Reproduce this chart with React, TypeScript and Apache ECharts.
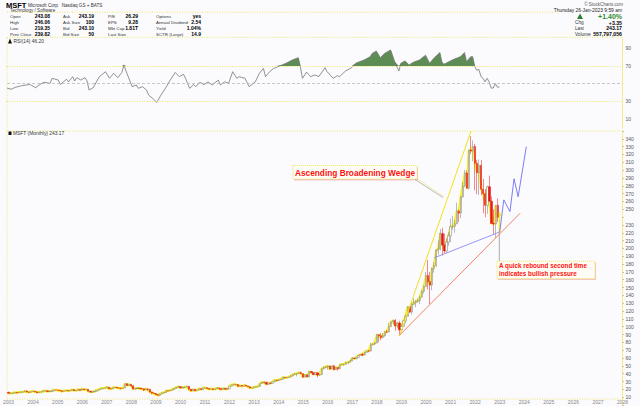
import React, { useEffect, useRef } from 'react';
import * as echarts from 'echarts';

// ---------- categories (months Jan 2003 .. Jan 2028) ----------
const months: string[] = [];
for (let y = 2003; y <= 2028; y++) {
  for (let m = 1; m <= 12; m++) {
    if (y === 2028 && m > 1) break;
    months.push(`${y}-${m < 10 ? '0' + m : m}`);
  }
}

// ---------- monthly OHLC (dividend adjusted), Jan 2003 .. Jan 2023 ----------
const opens = [
  16.3, 14.9, 14.9, 15.3, 16.1, 15.5, 16.2, 16.6, 16.7, 17.5, 16.5, 16.2,
  17.2, 17.6, 16.8, 15.8, 16.6, 16.7, 18.1, 18.1, 17.3, 17.6, 17.8, 19.2,
  19.1, 18.9, 18.1, 17.4, 18.2, 18.6, 17.9, 18.4, 19.7, 18.5, 18.5, 19.9,
  18.8, 20.5, 19.6, 19.9, 17.6, 16.5, 17.0, 17.6, 18.8, 20.0, 21.0, 21.4,
  21.8, 22.8, 20.8, 20.6, 22.2, 22.7, 21.8, 21.5, 21.3, 21.8, 27.2, 24.9,
  26.3, 24.5, 20.4, 21.3, 21.4, 21.2, 20.6, 19.3, 20.5, 20.0, 16.7, 15.2,
  14.6, 13.1, 12.4, 14.1, 15.5, 16.0, 18.2, 18.0, 18.9, 19.7, 21.2, 22.5,
  23.3, 22.0, 22.4, 22.8, 23.8, 20.1, 17.9, 20.1, 18.3, 19.1, 20.8, 19.7,
  21.8, 22.0, 21.1, 20.2, 20.7, 19.9, 20.7, 21.8, 21.1, 19.8, 21.2, 20.3,
  20.6, 24.1, 25.9, 26.3, 26.1, 23.8, 24.9, 24.0, 25.1, 24.3, 23.3, 21.7,
  21.8, 22.9, 23.2, 23.9, 27.6, 29.1, 28.8, 26.6, 27.9, 27.8, 29.6, 31.8,
  31.2, 32.5, 32.9, 35.3, 34.7, 35.2, 35.9, 37.1, 39.1, 39.9, 40.4, 41.1,
  39.9, 35.6, 38.6, 35.8, 42.8, 41.2, 38.9, 41.1, 38.3, 38.9, 46.3, 47.8,
  48.8, 49.9, 46.0, 50.0, 45.1, 48.0, 46.3, 51.3, 52.0, 52.1, 54.2, 54.5,
  56.2, 59.8, 59.2, 60.9, 63.3, 64.6, 63.8, 67.2, 69.2, 68.9, 76.9, 77.9,
  79.1, 89.8, 88.6, 86.2, 88.4, 93.4, 93.2, 100.2, 106.2, 108.1, 100.9, 104.8,
  96.0, 100.3, 107.5, 113.2, 125.4, 118.7, 128.6, 130.8, 132.3, 133.5, 137.6, 145.3,
  151.4, 165.5, 157.5, 153.3, 174.2, 178.1, 197.8, 199.3, 219.2, 204.4, 196.8, 208.1,
  216.2, 227.8, 228.2, 231.5, 247.6, 245.2, 266.0, 279.8, 296.4, 276.8, 325.6, 324.6,
  330.3, 308.8, 296.7, 306.2, 275.6, 270.0, 255.0, 278.8, 260.4, 232.0, 231.2, 255.1,
  243.08,
];
const highs = [
  16.8, 15.6, 16.0, 16.5, 16.6, 16.9, 17.1, 17.2, 18.5, 18.9, 16.9, 17.5,
  18.1, 17.8, 17.0, 17.0, 17.0, 18.2, 18.8, 18.1, 17.8, 18.1, 19.4, 19.5,
  19.3, 19.0, 18.3, 18.4, 18.8, 18.7, 18.8, 19.9, 19.8, 18.9, 20.0, 20.0,
  20.8, 20.5, 20.3, 20.3, 17.7, 17.2, 17.8, 19.0, 20.1, 21.1, 21.9, 22.1,
  23.2, 22.9, 21.2, 22.4, 23.1, 22.8, 22.1, 21.9, 22.0, 27.6, 27.8, 26.8,
  26.5, 25.0, 21.7, 22.2, 21.8, 21.5, 20.8, 20.8, 21.0, 20.1, 16.8, 15.9,
  15.1, 13.9, 14.5, 15.7, 16.3, 18.4, 18.3, 19.1, 20.1, 21.6, 22.7, 23.8,
  23.8, 22.6, 23.0, 24.6, 24.0, 20.6, 20.5, 20.3, 19.3, 21.0, 21.0, 22.0,
  22.8, 22.3, 21.2, 21.0, 20.8, 20.8, 22.5, 21.8, 21.6, 21.9, 21.2, 20.9,
  24.3, 26.1, 26.6, 26.4, 26.2, 25.1, 25.4, 25.2, 25.9, 24.4, 23.4, 22.4,
  23.3, 23.4, 24.1, 27.7, 29.3, 29.9, 30.0, 28.2, 28.4, 30.0, 32.2, 32.0,
  33.0, 33.2, 35.6, 35.5, 35.4, 36.0, 38.3, 39.3, 40.4, 40.6, 42.4, 42.8,
  40.6, 39.1, 38.7, 43.3, 42.9, 41.4, 41.8, 41.4, 39.9, 46.9, 49.4, 49.5,
  50.4, 50.0, 50.1, 51.1, 48.5, 48.2, 51.9, 52.5, 52.5, 55.0, 55.0, 57.5,
  61.2, 60.1, 61.3, 63.6, 65.2, 66.7, 68.3, 69.5, 70.0, 79.5, 78.9, 80.2,
  90.9, 90.5, 92.0, 91.8, 94.1, 96.0, 105.1, 106.9, 108.8, 109.8, 106.3, 107.6,
  103.0, 108.0, 115.4, 126.4, 125.8, 132.0, 136.2, 133.9, 136.2, 139.5, 146.6, 152.7,
  169.9, 185.4, 170.0, 175.4, 182.3, 198.7, 210.3, 224.7, 226.3, 218.9, 212.9, 220.8,
  238.3, 241.7, 236.7, 258.5, 249.8, 266.8, 284.9, 300.3, 299.8, 326.0, 343.4, 338.1,
  333.5, 312.9, 313.7, 312.9, 288.8, 275.7, 280.0, 293.0, 266.4, 250.0, 255.3, 263.9,
  246.06,
];
const lows = [
  14.6, 14.6, 14.4, 15.1, 15.3, 15.3, 15.9, 16.3, 16.6, 16.4, 15.9, 16.1,
  17.0, 16.5, 15.4, 15.6, 16.2, 16.6, 17.4, 17.1, 17.2, 17.2, 17.7, 18.9,
  18.6, 18.0, 17.2, 17.2, 18.1, 17.7, 17.8, 18.3, 18.2, 17.7, 18.4, 18.6,
  18.7, 19.5, 19.4, 17.4, 16.1, 15.8, 16.9, 17.5, 18.7, 19.9, 20.9, 21.3,
  21.7, 20.6, 20.0, 20.6, 22.1, 21.6, 21.3, 19.9, 21.0, 21.7, 24.3, 24.7,
  23.0, 20.2, 19.9, 20.6, 20.8, 20.1, 17.9, 19.2, 17.8, 15.8, 13.8, 14.2,
  12.9, 12.1, 11.6, 14.0, 15.1, 15.9, 17.3, 17.9, 18.4, 19.3, 20.7, 22.3,
  21.6, 21.5, 22.3, 22.8, 19.2, 17.9, 17.8, 18.2, 18.0, 18.9, 19.6, 19.6,
  21.7, 20.8, 19.9, 20.1, 19.3, 18.9, 20.7, 18.9, 19.7, 19.6, 19.5, 20.1,
  20.6, 24.0, 25.4, 25.2, 23.7, 23.7, 23.7, 23.9, 24.1, 23.2, 21.2, 21.6,
  21.8, 22.6, 23.2, 23.8, 27.4, 27.5, 26.3, 26.0, 27.1, 27.5, 29.1, 30.4,
  31.1, 31.9, 32.6, 34.0, 34.4, 34.9, 35.9, 36.8, 38.8, 36.6, 40.3, 39.4,
  35.1, 35.3, 35.4, 35.7, 40.8, 38.8, 38.5, 35.4, 37.4, 38.7, 45.7, 47.1,
  44.9, 44.9, 45.7, 44.8, 45.0, 43.9, 46.2, 51.2, 50.4, 52.0, 52.5, 54.4,
  56.0, 58.9, 58.6, 60.5, 62.8, 62.3, 63.7, 66.8, 67.4, 68.6, 76.3, 76.9,
  79.0, 80.2, 82.8, 85.7, 87.3, 91.7, 93.1, 100.0, 103.0, 94.7, 98.0, 88.8,
  93.3, 100.2, 104.2, 113.0, 117.4, 115.6, 127.5, 124.8, 130.7, 129.2, 137.5, 142.3,
  151.3, 147.7, 128.8, 146.6, 169.0, 176.3, 192.0, 197.4, 190.8, 194.0, 194.5, 203.3,
  208.1, 223.8, 220.2, 231.0, 233.8, 238.6, 264.7, 278.6, 276.6, 275.2, 320.5, 311.5,
  274.1, 269.6, 268.1, 268.1, 244.7, 239.8, 244.2, 259.6, 231.8, 218.3, 213.4, 233.9,
  219.35,
];
const closes = [
  14.9, 14.9, 15.3, 16.1, 15.5, 16.2, 16.6, 16.7, 17.5, 16.5, 16.2, 17.2,
  17.6, 16.8, 15.8, 16.6, 16.7, 18.1, 18.1, 17.3, 17.6, 17.8, 19.2, 19.1,
  18.9, 18.1, 17.4, 18.2, 18.6, 17.9, 18.4, 19.7, 18.5, 18.5, 19.9, 18.8,
  20.5, 19.6, 19.9, 17.6, 16.5, 17.0, 17.6, 18.8, 20.0, 21.0, 21.4, 21.8,
  22.8, 20.8, 20.6, 22.2, 22.7, 21.8, 21.5, 21.3, 21.8, 27.2, 24.9, 26.3,
  24.5, 20.4, 21.3, 21.4, 21.2, 20.6, 19.3, 20.5, 20.0, 16.7, 15.2, 14.6,
  13.1, 12.4, 14.1, 15.5, 16.0, 18.2, 18.0, 18.9, 19.7, 21.2, 22.5, 23.3,
  22.0, 22.4, 22.8, 23.8, 20.1, 17.9, 20.1, 18.3, 19.1, 20.8, 19.7, 21.8,
  22.0, 21.1, 20.2, 20.7, 19.9, 20.7, 21.8, 21.1, 19.8, 21.2, 20.3, 20.6,
  24.1, 25.9, 26.3, 26.1, 23.8, 24.9, 24.0, 25.1, 24.3, 23.3, 21.7, 21.8,
  22.9, 23.2, 23.9, 27.6, 29.1, 28.8, 26.6, 27.9, 27.8, 29.6, 31.8, 31.2,
  32.5, 32.9, 35.3, 34.7, 35.2, 35.9, 37.1, 39.1, 39.9, 40.4, 41.1, 39.9,
  35.6, 38.6, 35.8, 42.8, 41.2, 38.9, 41.1, 38.3, 38.9, 46.3, 47.8, 48.8,
  49.9, 46.0, 50.0, 45.1, 48.0, 46.3, 51.3, 52.0, 52.1, 54.2, 54.5, 56.2,
  59.8, 59.2, 60.9, 63.3, 64.6, 63.8, 67.2, 69.2, 68.9, 76.9, 77.9, 79.1,
  89.8, 88.6, 86.2, 88.4, 93.4, 93.2, 100.2, 106.2, 108.1, 100.9, 104.8, 96.0,
  100.3, 107.5, 113.2, 125.4, 118.7, 128.6, 130.8, 132.3, 133.5, 137.6, 145.3, 151.4,
  165.5, 157.5, 153.3, 174.2, 178.1, 197.8, 199.3, 219.2, 204.4, 196.8, 208.1, 216.2,
  227.8, 228.2, 231.5, 247.6, 245.2, 266.0, 279.8, 296.4, 276.8, 325.6, 324.6, 330.3,
  308.8, 296.7, 306.2, 275.6, 270.0, 255.0, 278.8, 260.4, 232.0, 231.2, 255.1, 239.8,
  243.17,
];

// ---------- RSI(14) vertices ----------
const rsi: [string, number][] = [
  ['2003-01', 45], ['2003-03', 43.6], ['2003-05', 45.8], ['2003-08', 47.6], ['2003-12', 49],
  ['2004-01', 48], ['2004-03', 45.4], ['2004-05', 49], ['2004-07', 51.5], ['2004-10', 50.3],
  ['2004-11', 56], ['2005-02', 54], ['2005-03', 49], ['2005-06', 55], ['2005-07', 52],
  ['2005-09', 57.8], ['2005-10', 53], ['2005-11', 56.7], ['2006-01', 54], ['2006-03', 56.7],
  ['2006-04', 53], ['2006-05', 42.8], ['2006-07', 45.4], ['2006-10', 57.8], ['2007-01', 63.4],
  ['2007-03', 56], ['2007-05', 61.6], ['2007-07', 56.7], ['2007-09', 62.6], ['2007-10', 71],
  ['2007-11', 64.2], ['2008-02', 46.6], ['2008-04', 48.5], ['2008-05', 44.7], ['2008-07', 46.6],
  ['2008-09', 42.8], ['2008-10', 37.2], ['2008-12', 33.4], ['2009-02', 28.8], ['2009-04', 37],
  ['2009-07', 47.6], ['2009-08', 52], ['2009-11', 62.6], ['2010-01', 57.8], ['2010-03', 60.5],
  ['2010-04', 56], ['2010-06', 44.7], ['2010-08', 49], ['2010-09', 46.6], ['2010-11', 51.5],
  ['2011-01', 49], ['2011-03', 52], ['2011-05', 48.5], ['2011-08', 54], ['2011-09', 48.5],
  ['2011-11', 52], ['2012-01', 50.3], ['2012-03', 63.4], ['2012-05', 56], ['2012-06', 57.8],
  ['2012-09', 56], ['2012-11', 46.6], ['2013-02', 52], ['2013-04', 61.6], ['2013-06', 67.2],
  ['2013-07', 57.8], ['2013-09', 63.4], ['2013-11', 67.2], ['2013-12', 68], ['2014-03', 71],
  ['2014-05', 72.9], ['2014-08', 76.6], ['2014-11', 79.2], ['2014-12', 69], ['2015-01', 56],
  ['2015-03', 63], ['2015-05', 57.8], ['2015-07', 59.7], ['2015-09', 58], ['2015-12', 68],
  ['2016-01', 63.4], ['2016-04', 56], ['2016-06', 59], ['2016-07', 57.8], ['2016-10', 64.2],
  ['2017-01', 68], ['2017-03', 73], ['2017-07', 76.6], ['2017-10', 80.3], ['2017-11', 84],
  ['2018-01', 86.8], ['2018-03', 79.2], ['2018-05', 84], ['2018-08', 87.9], ['2018-10', 74.7],
  ['2018-12', 64.2], ['2019-01', 73], ['2019-03', 75.5], ['2019-05', 71], ['2019-07', 74],
  ['2019-10', 76.6], ['2020-01', 82], ['2020-03', 73], ['2020-05', 78.5], ['2020-08', 85],
  ['2020-09', 74], ['2020-10', 71.8], ['2021-02', 76.6], ['2021-04', 78.5], ['2021-06', 80.3],
  ['2021-08', 85], ['2021-09', 74.7], ['2021-11', 80.3], ['2021-12', 80.3], ['2022-01', 69],
  ['2022-02', 65], ['2022-03', 66], ['2022-04', 58], ['2022-05', 56], ['2022-06', 52],
  ['2022-07', 56], ['2022-08', 52], ['2022-09', 45], ['2022-10', 45], ['2022-11', 50],
  ['2022-12', 46], ['2023-01', 46.2],
];

// ---------- annotation trend lines ----------
const wedgeUpper: [string, number][] = [['2018-12', 88], ['2021-11', 350]];
const wedgeLower: [string, number][] = [['2018-12', 89], ['2023-11', 245]];
const blueLine: [string, number][] = [['2020-05', 188], ['2023-01', 221]];
const blueZig: [string, number][] = [
  ['2023-01', 221], ['2023-03', 262], ['2023-06', 247], ['2023-08', 289], ['2023-10', 266], ['2024-02', 330],
];

const rsiTicks = [10, 30, 70, 90];
const priceHidden = [240]; // covered by the last-price tag
const priceLast = 243.17;
const rsiLast = 46.2;

const FONT = 'Liberation Sans, Arial, sans-serif';
const YEL = '#ece23a';

function txt(x: number, y: number, text: string, o: any = {}) {
  return {
    type: 'text', x, y, silent: true,
    style: {
      text, fontFamily: FONT, fontSize: o.size || 5, fontWeight: o.bold ? 'bold' : 'normal',
      fill: o.color || '#333', align: o.align || 'left', verticalAlign: 'middle',
    },
  };
}
function hline(x1: number, x2: number, y: number, o: any = {}) {
  return {
    type: 'line', silent: true, shape: { x1, y1: y, x2, y2: y },
    style: { stroke: o.color || YEL, lineWidth: o.w || 0.8, lineDash: o.dash === undefined ? [1, 1.5] : o.dash },
  };
}
function vline(x: number, y1: number, y2: number, o: any = {}) {
  return {
    type: 'line', silent: true, shape: { x1: x, y1, x2: x, y2 },
    style: { stroke: o.color || YEL, lineWidth: o.w || 0.8, lineDash: o.dash === undefined ? [1, 1.5] : o.dash },
  };
}

export default function App() {
  const ref = useRef<HTMLDivElement>(null);
  useEffect(() => {
    if (!ref.current) return;
    const chart = echarts.init(ref.current, undefined, { renderer: 'svg' });

    const ohlc = closes.map((c, i) => {
      const v = [opens[i], c, lows[i], highs[i]];
      if (i === closes.length - 1) {
        return { value: v, itemStyle: { color: '#f3ea2a', borderColor: '#f3ea2a', borderWidth: 1.6 } };
      }
      return v;
    });

    const rows = [16.3, 22.3, 28.3, 34.0];
    const col = (lx: number, vx: number, labels: string[], values: string[]) => {
      const out: any[] = [];
      labels.forEach((l, k) => {
        out.push(txt(lx, rows[k], l, { color: '#333', size: 4.4 }));
        out.push(txt(vx, rows[k], values[k], { bold: true, color: '#000', align: 'right', size: 5 }));
      });
      return out;
    };

    const graphic: any[] = [
      // header
      txt(6, 5, 'MSFT', { bold: true, size: 7.5, color: '#000' }),
      txt(28, 5, 'Microsoft Corp.  Nasdaq GS + BATS', { size: 4.6, color: '#333' }),
      txt(10, 10.6, 'Technology / Software', { size: 4.6, color: '#333' }),
      ...col(10, 50, ['Open', 'High', 'Low', 'Prev Close'], ['243.08', '246.06', '219.35', '239.82']),
      ...col(63, 94, ['Ask', 'Ask Size', 'Bid', 'Bid Size'], ['243.19', '100', '243.10', '50']),
      ...col(108, 138, ['P/E', 'EPS', 'Mkt Cap', 'Last Size'], ['26.29', '9.28', '1.81T', '']),
      ...col(156, 201, ['Options', 'Annual Dividend', 'Yield', 'SCTR (Large)'], ['yes', '2.54', '1.04%', '14.9']),
      txt(623, 4, '© StockCharts.com', { size: 4.5, color: '#555', align: 'right' }),
      txt(622, 10.4, 'Thursday 26-Jan-2023 9:59 am', { size: 4.9, color: '#222', align: 'right' }),
      {
        type: 'polygon', silent: true, shape: { points: [[577, 19], [583, 19], [580, 13.5]] },
        style: { fill: '#2e7d32' },
      },
      txt(622, 16.5, '+1.40%', { size: 7, bold: true, color: '#2e8b2e', align: 'right' }),
      txt(575, 22.6, 'Chg', { size: 4.7 }),
      txt(622, 22.6, '+3.35', { size: 5.2, bold: true, color: '#000', align: 'right' }),
      txt(575, 28.4, 'Last', { size: 4.7 }),
      txt(622, 28.4, '243.17', { size: 5.2, bold: true, color: '#000', align: 'right' }),
      txt(575, 34.2, 'Volume', { size: 4.7 }),
      txt(622, 34.2, '557,797,056', { size: 5.2, bold: true, color: '#000', align: 'right' }),
      // panel borders
      hline(7, 557, 12.2),
      hline(7, 623, 37.3),
      hline(7, 623, 131),
      hline(7, 623, 399),
      vline(7, 37.3, 399),
      // panel titles
      { type: 'polygon', silent: true, shape: { points: [[8, 43.5], [10, 38.5], [12, 43.5]] }, style: { fill: '#111' } },
      txt(13.5, 41, 'RSI(14) 46.20', { size: 4.9, color: '#333' }),
      { type: 'rect', silent: true, shape: { x: 8.5, y: 131.5, width: 3, height: 3.5 }, style: { fill: '#111' } },
      txt(13, 133.5, 'MSFT (Monthly) 243.17', { size: 4.9, color: '#333' }),
      // annotation 1
      { type: 'rect', silent: true, shape: { x: 294, y: 167, width: 124, height: 13.5 }, style: { fill: '#f3c6c6' } },
      {
        type: 'rect', silent: true, shape: { x: 293, y: 165.5, width: 124, height: 13.5 },
        style: { fill: '#fdfdf6', stroke: YEL, lineWidth: 0.8, lineDash: [1, 1] },
      },
      txt(355, 172.6, 'Ascending Broadening Wedge', { size: 8.3, bold: true, color: '#ff1010', align: 'center' }),
      {
        type: 'line', silent: true, shape: { x1: 415, y1: 179.5, x2: 443, y2: 197.5 },
        style: { stroke: '#a8a898', lineWidth: 0.8 },
      },
      {
        type: 'line', silent: true, shape: { x1: 416.5, y1: 178.5, x2: 444, y2: 196.5 },
        style: { stroke: '#e8e07a', lineWidth: 0.6 },
      },
      // annotation 2
      { type: 'line', silent: true, shape: { x1: 499.3, y1: 231, x2: 499.3, y2: 261.5 }, style: { stroke: '#a0a0a0', lineWidth: 0.9 } },
      { type: 'rect', silent: true, shape: { x: 498, y: 262.5, width: 98, height: 17.5 }, style: { fill: '#f3c6c6' } },
      {
        type: 'rect', silent: true, shape: { x: 497, y: 261.2, width: 98, height: 17.5 },
        style: { fill: '#fdfdf6', stroke: YEL, lineWidth: 0.8, lineDash: [1, 1] },
      },
      txt(499, 265.7, 'A quick rebound second time', { size: 6.3, bold: true, color: '#ff1010' }),
      txt(499, 273.4, 'indicates bullish pressure', { size: 6.3, bold: true, color: '#ff1010' }),
    ];

    const rsiBase = rsi.map(([m]) => [m, 70]);
    const rsiOver = rsi.map(([m, v]) => [m, Math.max(v - 70, 0)]);

    const tagLabel = (text: string) => ({
      show: true, position: 'end', formatter: text, fontSize: 5, fontFamily: FONT, color: '#000',
      backgroundColor: '#f4f4f4', borderColor: '#222', borderWidth: 0.6, padding: [1, 1, 0, 1], distance: 1,
    });

    const option: any = {
      animation: false,
      backgroundColor: '#fbfbfe',
      grid: [
        { left: 7, right: 17.5, top: 39.25, height: 88.75 },
        { left: 7, right: 17.5, top: 131, bottom: 1 },
      ],
      xAxis: [
        { type: 'category', gridIndex: 0, data: months, boundaryGap: false, show: false },
        {
          type: 'category', gridIndex: 1, data: months, boundaryGap: false,
          axisLine: { show: false }, axisTick: { show: false }, splitLine: { show: false },
          axisLabel: {
            interval: (_i: number, v: string) => v.endsWith('-01'),
            formatter: (v: string) => v.slice(0, 4),
            fontSize: 5, fontFamily: FONT, color: '#888', margin: -5.5,
          },
        },
      ],
      yAxis: [
        {
          type: 'value', gridIndex: 0, position: 'right', min: 0, max: 100, interval: 10,
          splitLine: { show: false },
          axisLine: { show: true, lineStyle: { color: YEL, type: [1, 1.5], width: 0.8 } },
          axisTick: { show: false },
          axisLabel: {
            fontSize: 5, fontFamily: FONT, color: '#555', margin: 3,
            formatter: (v: number) => (rsiTicks.indexOf(v) >= 0 ? String(v) : ''),
          },
        },
        {
          type: 'value', gridIndex: 1, position: 'right', min: 0, max: 350, interval: 10,
          splitLine: { show: false },
          axisLine: { show: true, lineStyle: { color: YEL, type: [1, 1.5], width: 0.8 } },
          axisTick: { show: true, length: 1.5, lineStyle: { color: '#999', width: 0.6 } },
          axisLabel: {
            fontSize: 5, fontFamily: FONT, color: '#555', margin: 3,
            formatter: (v: number) => (v >= 10 && v <= 340 && priceHidden.indexOf(v) < 0 ? String(v) : ''),
          },
        },
      ],
      series: [
        {
          type: 'line', xAxisIndex: 0, yAxisIndex: 0, data: rsiBase, stack: 'ob', symbol: 'none',
          lineStyle: { width: 0, opacity: 0 }, silent: true, z: 1,
        },
        {
          type: 'line', xAxisIndex: 0, yAxisIndex: 0, data: rsiOver, stack: 'ob', symbol: 'none',
          lineStyle: { width: 0, opacity: 0 }, areaStyle: { color: '#5d8d55', opacity: 1 }, silent: true, z: 2,
        },
        {
          type: 'line', xAxisIndex: 0, yAxisIndex: 0, data: rsi, symbol: 'none', z: 3,
          lineStyle: { width: 0.8, color: '#777' },
          markLine: {
            silent: true, symbol: 'none', animation: false,
            data: [
              { yAxis: 70, lineStyle: { color: YEL, type: [1, 1.5], width: 0.8 }, label: { show: false } },
              { yAxis: 30, lineStyle: { color: YEL, type: [1, 1.5], width: 0.8 }, label: { show: false } },
              { yAxis: 50, lineStyle: { color: '#b0b0b0', type: [3, 2], width: 0.7 }, label: { show: false } },
              { yAxis: rsiLast, lineStyle: { width: 0, opacity: 0 }, label: tagLabel('46.20') },
            ],
          },
        },
        {
          type: 'line', xAxisIndex: 1, yAxisIndex: 1, data: closes, symbol: 'none', z: 1,
          lineStyle: { width: 2.6, color: '#f6ef34' }, silent: true,
        },
        {
          type: 'candlestick', xAxisIndex: 1, yAxisIndex: 1, data: ohlc, barWidth: 1.7, z: 2,
          itemStyle: { color: '#ffffff', color0: '#e8141e', borderColor: '#7a7a7a', borderColor0: '#e8141e', borderWidth: 0.5 },
          markLine: {
            silent: true, symbol: 'none', animation: false,
            data: [{ yAxis: priceLast, lineStyle: { width: 0, opacity: 0 }, label: tagLabel('243.17') }],
          },
        },
        {
          type: 'line', xAxisIndex: 1, yAxisIndex: 1, data: wedgeUpper, symbol: 'none', z: 4,
          lineStyle: { width: 1, color: '#f2e21a' }, silent: true,
        },
        {
          type: 'line', xAxisIndex: 1, yAxisIndex: 1, data: wedgeLower, symbol: 'none', z: 4,
          lineStyle: { width: 1, color: '#f4826a' }, silent: true,
        },
        {
          type: 'line', xAxisIndex: 1, yAxisIndex: 1, data: blueLine, symbol: 'none', z: 4,
          lineStyle: { width: 0.9, color: '#8a8af2' }, silent: true,
        },
        {
          type: 'line', xAxisIndex: 1, yAxisIndex: 1, z: 4, silent: true,
          showSymbol: true, symbol: 'none',
          data: blueZig.map((p, k) =>
            k === blueZig.length - 1
              ? { value: p, symbol: 'triangle', symbolSize: [5, 6], symbolRotate: -8, itemStyle: { color: '#2a2ae0' } }
              : { value: p, symbol: 'none' }
          ),
          lineStyle: { width: 0.9, color: '#6e6ef5' },
        },
      ],
      graphic,
    };
    chart.setOption(option);
    return () => chart.dispose();
  }, []);
  return (
    <div
      ref={ref}
      style={{ position: 'absolute', left: 0, top: 0, width: 640, height: 406, background: '#fbfbfe' }}
    />
  );
}
